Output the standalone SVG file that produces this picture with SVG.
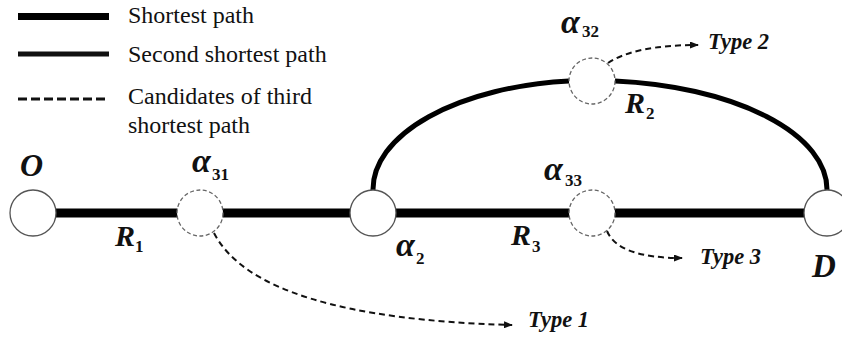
<svg xmlns="http://www.w3.org/2000/svg" width="842" height="345" viewBox="0 0 842 345">
<defs>
<style>
.leg{font-family:"Liberation Serif","Times New Roman",serif;font-size:24px;fill:#111}
.math{font-family:"Liberation Serif","Times New Roman",serif;font-style:italic;font-weight:bold;fill:#111}
.sub{font-family:"Liberation Serif","Times New Roman",serif;font-weight:bold;font-size:17px;fill:#111}
.type{font-family:"Liberation Serif","Times New Roman",serif;font-style:italic;font-weight:bold;font-size:22.5px;fill:#111}
.node{fill:#fff;stroke:#555;stroke-width:1.3}
.cand{fill:#fff;stroke:#666;stroke-width:1.3;stroke-dasharray:4 2.5}
.dash{fill:none;stroke:#111;stroke-width:2;stroke-dasharray:6 4}
</style>
<marker id="ah" markerWidth="9" markerHeight="7" refX="8" refY="3.5" orient="auto" markerUnits="userSpaceOnUse">
<path d="M0,0 L9,3.5 L0,7 z" fill="#111"/>
</marker>
</defs>
<rect width="842" height="345" fill="#fff"/>
<g id="legend">
<line x1="18" y1="16.5" x2="109" y2="16.5" stroke="#000" stroke-width="7"/>
<line x1="18" y1="54" x2="109" y2="54" stroke="#111" stroke-width="5"/>
<line x1="18" y1="99" x2="109" y2="99" stroke="#111" stroke-width="3" stroke-dasharray="9 4"/>
<text class="leg" x="128" y="23">Shortest path</text>
<text class="leg" x="128" y="62">Second shortest path</text>
<text class="leg" x="128" y="104">Candidates of third</text>
<text class="leg" x="128" y="133">shortest path</text>
</g>
<g id="connectors">
<line x1="33" y1="213" x2="827" y2="213" stroke="#000" stroke-width="9"/>
<path d="M373,190 A219,109 0 0 1 569,81" fill="none" stroke="#000" stroke-width="5"/>
<path d="M615,81 A235,109 0 0 1 827,190" fill="none" stroke="#000" stroke-width="5"/>
<path class="dash" d="M214,233 Q258,318 512,325" marker-end="url(#ah)"/>
<path class="dash" d="M608,63 Q635,45 698,45" marker-end="url(#ah)"/>
<path class="dash" d="M607,231 Q618,258 682,258" marker-end="url(#ah)"/>
</g>
<g id="node-O">
<circle class="node" cx="33" cy="213" r="23"/>
<text class="math" x="20" y="176" font-size="32">O</text>
</g>
<g id="node-a31">
<circle class="cand" cx="200" cy="213" r="23"/>
<text class="math" x="192" y="172" font-size="34">α</text>
<text class="sub" x="212" y="180">31</text>
</g>
<g id="node-a2">
<circle class="node" cx="373" cy="213" r="23"/>
<text class="math" x="396" y="256" font-size="34">α</text>
<text class="sub" x="416" y="264">2</text>
</g>
<g id="node-a33">
<circle class="cand" cx="592" cy="213" r="23"/>
<text class="math" x="544" y="180" font-size="34">α</text>
<text class="sub" x="565" y="186">33</text>
</g>
<g id="node-a32">
<circle class="cand" cx="592" cy="81" r="23"/>
<text class="math" x="561" y="33" font-size="34">α</text>
<text class="sub" x="582" y="37">32</text>
</g>
<g id="node-D">
<circle class="node" cx="827" cy="213" r="23"/>
<text class="math" x="812" y="277" font-size="33">D</text>
</g>
<g id="labels">
<text class="math" x="115" y="246" font-size="30">R</text>
<text class="sub" x="135" y="252">1</text>
<text class="math" x="511" y="245" font-size="30">R</text>
<text class="sub" x="532" y="252">3</text>
<text class="math" x="625" y="113" font-size="30">R</text>
<text class="sub" x="646" y="119">2</text>
<text class="type" x="528" y="327">Type 1</text>
<text class="type" x="708" y="49">Type 2</text>
<text class="type" x="700" y="264">Type 3</text>
</g>
</svg>
